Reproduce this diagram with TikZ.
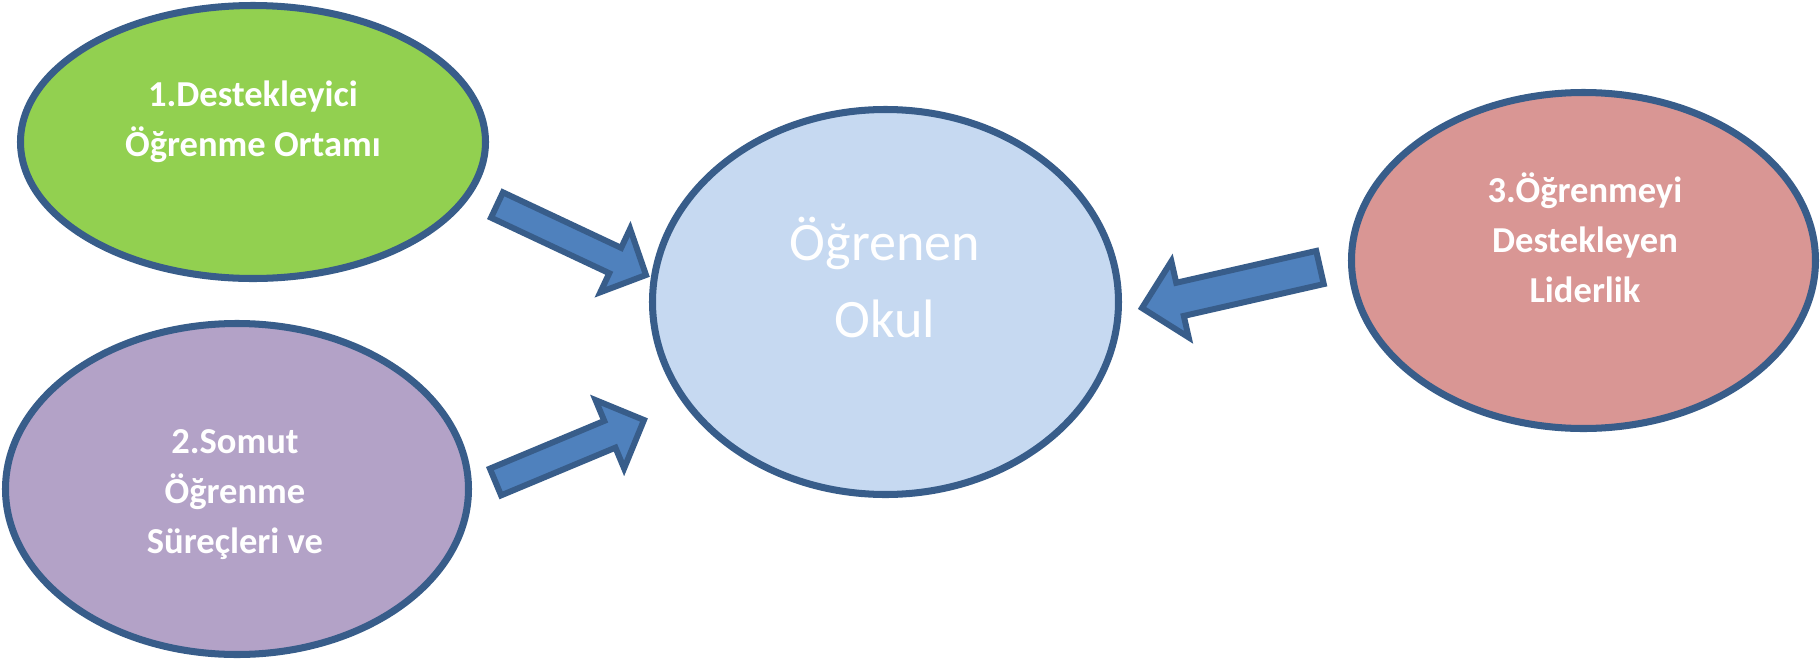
\documentclass[tikz,border=0pt]{standalone}
\usepackage{fontspec}
\setmainfont{Carlito}
\usepackage{tikz}
\usetikzlibrary{positioning,calc,shapes.geometric}
\definecolor{rim}{HTML}{385D8A}
\definecolor{shaft}{HTML}{4F81BD}
\definecolor{leaf}{HTML}{92D050}
\definecolor{lilac}{HTML}{B3A2C7}
\definecolor{sky}{HTML}{C6D9F1}
\definecolor{rose}{HTML}{D99694}
\newcommand{\bigarrow}[5]{%
\draw[blockarrow] ($(#1)!#3!90:(#2)$) -- ($(#2)!#5!(#1)!#3!-90:(#1)$)
  -- ($(#2)!#5!(#1)!#4!-90:(#1)$) -- (#2) -- ($(#2)!#5!(#1)!#4!90:(#1)$)
  -- ($(#2)!#5!(#1)!#3!90:(#1)$) -- ($(#1)!#3!-90:(#2)$) -- cycle;}

\begin{document}
\begin{tikzpicture}[
bubble/.style={ellipse, draw=rim, line width=2pt, inner sep=0pt},
smalltext/.style={text=white, font=\bfseries\fontsize{10.4}{14.2}\selectfont, align=center, anchor=base},
bigtext/.style={text=white, font=\fontsize{15.4}{21.9}\selectfont, align=center, anchor=base},
blockarrow/.style={draw=rim, fill=shaft, line width=1.7pt}]
\useasboundingbox (0,0) rectangle (18.2,6.6);
% ellipses
\node[bubble, fill=leaf, minimum width=4.65cm, minimum height=2.73cm] (ortam) at (2.53,5.18) {};
\node[bubble, fill=lilac, minimum width=4.63cm, minimum height=3.31cm] (surec) at (2.37,1.71) {};
\node[bubble, fill=sky, minimum width=4.66cm, minimum height=3.85cm] (okul) at (8.855,3.58) {};
\node[bubble, fill=rose, minimum width=4.64cm, minimum height=3.36cm] (lider) at (15.835,3.995) {};
% texts (base = last line)
\node[smalltext] (ortamtxt) at (2.53,5.04) {1.Destekleyici\\Öğrenme Ortamı};
\node[smalltext] (surectxt) at (2.35,1.07) {2.Somut\\Öğrenme\\Süreçleri ve};
\node[smalltext] (lidertxt) at (15.85,3.58) {3.Öğrenmeyi\\Destekleyen\\Liderlik};
\node[bigtext] (okultxt) at (8.85,3.23) {Öğrenen\\Okul};
% arrows
\coordinate (a1t) at (4.97,4.55);
\coordinate (a1h) at (6.46,3.85);
\coordinate (a2t) at (4.955,1.78);
\coordinate (a2h) at (6.44,2.40);
\coordinate (a3t) at (13.20,3.925);
\coordinate (a3h) at (11.42,3.52);
\bigarrow{a1t}{a1h}{0.14cm}{0.35cm}{0.34cm}
\bigarrow{a2t}{a2h}{0.145cm}{0.37cm}{0.37cm}
\bigarrow{a3t}{a3h}{0.17cm}{0.39cm}{0.39cm}
\end{tikzpicture}
\end{document}
